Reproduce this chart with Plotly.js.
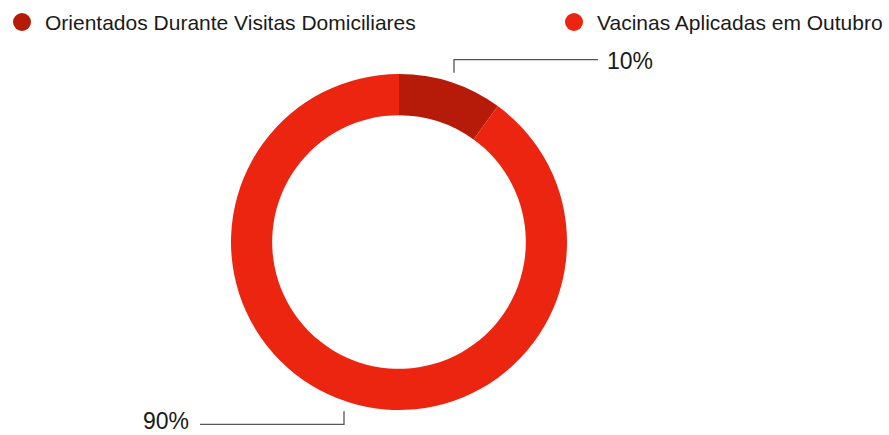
<!DOCTYPE html>
<html>
<head>
<meta charset="utf-8">
<script src="https://cdn.plot.ly/plotly-3.0.1.min.js"></script>
<style>html,body{margin:0;padding:0;background:#fff;}#chart{width:889px;height:435px;}</style>
</head>
<body>
<div id="chart"></div>
<script>
// Data
var categories = ["Orientados Durante Visitas Domiciliares", "Vacinas Aplicadas em Outubro"];
var values = [10, 90];
var valueLabels = ["10%", "90%"];
var colors = ["#B51B08", "#EC2511"];

// Layout geometry (pixels)
var W = 889, H = 435;
var cx = 399, cy = 242, R = 168;
var FONT = "'Liberation Sans', Arimo, Helvetica, Arial, sans-serif";

function px(x) { return x / W; }
function py(y) { return 1 - y / H; }

var shapes = [];
var annotations = [];

// leader lines + value labels computed from the values
var total = values.reduce(function (a, b) { return a + b; }, 0);
var cum = 0;
for (var i = 0; i < values.length; i++) {
  var mid = (cum + values[i] / 2) / total * 2 * Math.PI; // clockwise from top
  cum += values[i];
  var sx = cx + (R + 10) * Math.sin(mid);
  var sy = cy - (R + 10) * Math.cos(mid);
  var up = Math.cos(mid) > 0;
  var right = Math.sin(mid) > 0;
  var ey = sy + (up ? -13 : 13);
  var ex = sx + (right ? 144 : -144);
  shapes.push({type: "path", xref: "paper", yref: "paper",
    path: "M" + px(sx) + "," + py(sy) + " L" + px(sx) + "," + py(ey) + " L" + px(ex) + "," + py(ey),
    line: {color: "#555555", width: 1.3}});
  annotations.push({xref: "paper", yref: "paper", x: px(ex + (right ? 8 : -10)), y: py(ey + (up ? 1 : -3)),
    xanchor: right ? "left" : "right", yanchor: "middle", showarrow: false, borderpad: 0,
    text: valueLabels[i], font: {family: FONT, size: 23, color: "#1a1a1a"}});
}

// custom legend with circle markers
var legendX = [22, 574];
for (var j = 0; j < categories.length; j++) {
  var lx = legendX[j], ly = 22, r = 9;
  shapes.push({type: "circle", xref: "paper", yref: "paper",
    x0: px(lx - r), x1: px(lx + r), y0: py(ly + r), y1: py(ly - r),
    fillcolor: colors[j], line: {width: 0}});
  annotations.push({xref: "paper", yref: "paper", x: px(lx + 21), y: py(ly),
    xanchor: "left", yanchor: "middle", showarrow: false,
    text: categories[j], font: {family: FONT, size: 21, color: "#1a1a1a"}});
}

var trace = {
  type: "pie",
  labels: categories,
  values: values,
  hole: 0.755,
  sort: false,
  direction: "clockwise",
  rotation: 0,
  textinfo: "none",
  hoverinfo: "label+percent",
  marker: {colors: colors, line: {width: 0}},
  domain: {x: [px(cx - R), px(cx + R)], y: [py(cy + R), py(cy - R)]},
  showlegend: false
};

var layout = {
  width: W, height: H,
  margin: {l: 0, r: 0, t: 0, b: 0},
  paper_bgcolor: "#ffffff",
  plot_bgcolor: "#ffffff",
  showlegend: false,
  shapes: shapes,
  annotations: annotations,
  font: {family: FONT}
};

Plotly.newPlot("chart", [trace], layout, {displayModeBar: false, staticPlot: true});
</script>
</body>
</html>
